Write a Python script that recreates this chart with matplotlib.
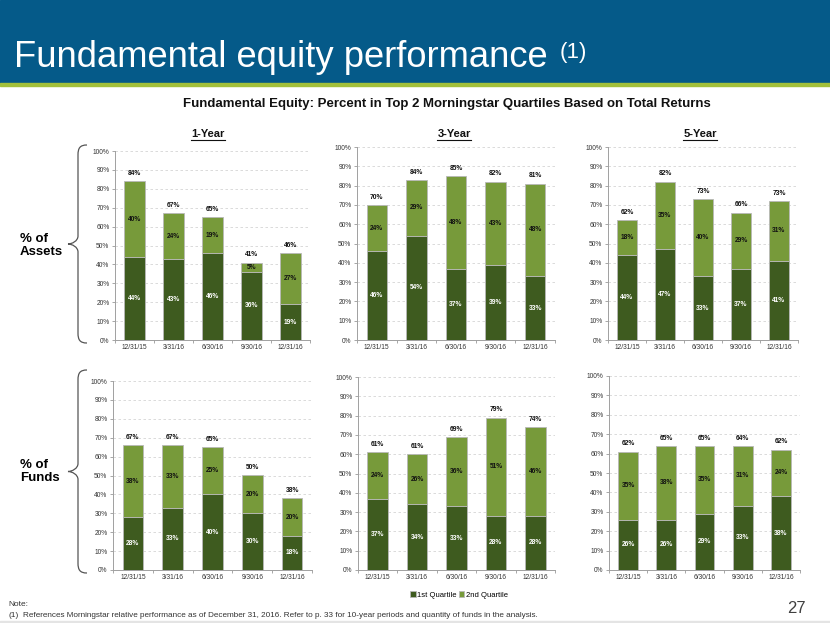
import matplotlib
matplotlib.use("Agg")
import matplotlib.pyplot as plt
from matplotlib import font_manager
from matplotlib.patches import Rectangle, PathPatch
from matplotlib.path import Path
from matplotlib.lines import Line2D
import numpy as np

# ---- data ----
dates = ["12/31/15", "3/31/16", "6/30/16", "9/30/16", "12/31/16"]
periods = ["1-Year", "3-Year", "5-Year"]

assets_q1 = {"1-Year": [44, 43, 46, 36, 19],
             "3-Year": [46, 54, 37, 39, 33],
             "5-Year": [44, 47, 33, 37, 41]}
assets_q2 = {"1-Year": [40, 24, 19, 5, 27],
             "3-Year": [24, 29, 48, 43, 48],
             "5-Year": [18, 35, 40, 29, 31]}
assets_tot = {"1-Year": [84, 67, 65, 41, 46],
              "3-Year": [70, 84, 85, 82, 81],
              "5-Year": [62, 82, 73, 66, 73]}

funds_q1 = {"1-Year": [28, 33, 40, 30, 18],
            "3-Year": [37, 34, 33, 28, 28],
            "5-Year": [26, 26, 29, 33, 38]}
funds_q2 = {"1-Year": [38, 33, 25, 20, 20],
            "3-Year": [24, 26, 36, 51, 46],
            "5-Year": [35, 38, 35, 31, 24]}
funds_tot = {"1-Year": [67, 67, 65, 50, 38],
             "3-Year": [61, 61, 69, 79, 74],
             "5-Year": [62, 65, 65, 64, 62]}

dark = "#3e5b1f"
light = "#779a3a"
W, H = 830, 623

names = {f.name for f in font_manager.fontManager.ttflist}
base = "Liberation Sans" if "Liberation Sans" in names else "DejaVu Sans"
narrow = "Liberation Sans Narrow" if "Liberation Sans Narrow" in names else base
plt.rcParams["font.family"] = [base, "DejaVu Sans"]

fig = plt.figure(figsize=(8.3, 6.23), dpi=100)


def fx(x):
    return x / W


def fy(y):
    return 1 - y / H


def axes_px(left, top, right, bottom):
    return fig.add_axes([fx(left), fy(bottom), (right - left) / W, (bottom - top) / H])


# banner
fig.patches.append(Rectangle((0, fy(83)), 1, 83 / H, transform=fig.transFigure,
                             color="#055a89", zorder=0))
fig.patches.append(Rectangle((0, fy(86)), 1, 3 / H, transform=fig.transFigure,
                             color="#a3c03b", zorder=0))
fig.patches.append(Rectangle((0, 0), 1, 2 / H, transform=fig.transFigure,
                             color="#e4e4e4", zorder=0))

fig.text(fx(14), fy(67), "Fundamental equity performance", color="white",
         fontsize=26.2, va="baseline", ha="left")
fig.text(fx(560), fy(58), "(1)", color="white", fontsize=16, va="baseline", ha="left")

fig.text(fx(447), fy(107), "Fundamental Equity: Percent in Top 2 Morningstar Quartiles Based on Total Returns",
         family=narrow, fontweight="bold", fontsize=9.5, ha="center", va="baseline", color="#111111")

for p, cx in zip(periods, [208, 454, 700]):
    fig.text(fx(cx), fy(137), p, fontweight="bold", fontsize=8, ha="center",
             va="baseline", color="#111111")
    fig.lines.append(Line2D([fx(cx - 17), fx(cx + 17)], [fy(139.5), fy(139.5)],
                            transform=fig.transFigure, color="#111111", lw=0.8))

# row labels
fig.text(fx(20), fy(239), "% of", fontweight="bold", fontsize=9.5, va="center")
fig.text(fx(20), fy(252), "Assets", fontweight="bold", fontsize=9.5, va="center")
fig.text(fx(20), fy(465), "% of", fontweight="bold", fontsize=9.5, va="center")
fig.text(fx(20), fy(478), "Funds", fontweight="bold", fontsize=9.5, va="center")


def brace(x_end, x_mid, x_tip, y_top, y_bot):
    yc = (y_top + y_bot) / 2
    pts = [(x_end, y_top),
           (x_mid + 2, y_top), (x_mid, y_top + 3), (x_mid, y_top + 10),
           (x_mid, yc - 8),
           (x_mid, yc - 3), (x_tip + 4, yc), (x_tip, yc),
           (x_tip + 4, yc), (x_mid, yc + 3), (x_mid, yc + 8),
           (x_mid, y_bot - 10),
           (x_mid, y_bot - 3), (x_mid + 2, y_bot), (x_end, y_bot)]
    codes = [Path.MOVETO, Path.CURVE4, Path.CURVE4, Path.CURVE4, Path.LINETO,
             Path.CURVE4, Path.CURVE4, Path.CURVE4, Path.CURVE4, Path.CURVE4, Path.CURVE4,
             Path.LINETO, Path.CURVE4, Path.CURVE4, Path.CURVE4]
    path = Path([(fx(a), fy(b)) for a, b in pts], codes)
    fig.patches.append(PathPatch(path, transform=fig.transFigure, fill=False,
                                 edgecolor="#555555", lw=0.9))


brace(87, 78, 68, 145, 343)
brace(87, 78, 68, 370, 573)


def panel(ax, q1, q2, tot):
    x = np.arange(len(dates))
    q1 = np.array(q1)
    q2 = np.array(q2)
    b1 = ax.bar(x, q1, width=0.52, color=dark, edgecolor="#b8b8b8", linewidth=0.6,
                zorder=3, label="1st Quartile")
    b2 = ax.bar(x, q2, bottom=q1, width=0.52, color=light, edgecolor="#b8b8b8",
                linewidth=0.6, zorder=3, label="2nd Quartile")
    for i in range(len(x)):
        ax.text(x[i], q1[i] / 2, f"{q1[i]}%", ha="center", va="center", color="white",
                fontsize=4.8, fontweight="bold", zorder=4)
        ax.text(x[i], q1[i] + q2[i] / 2, f"{q2[i]}%", ha="center", va="center",
                color="#111111", fontsize=4.8, fontweight="bold", zorder=4)
        ax.text(x[i], q1[i] + q2[i] + 2.2, f"{tot[i]}%", ha="center", va="bottom",
                color="#111111", fontsize=4.8, fontweight="bold", zorder=4)
    ax.set_xlim(-0.5, len(x) - 0.5)
    ax.set_ylim(0, 100)
    ax.set_yticks(range(0, 101, 10))
    ax.set_yticklabels([f"{v}%" for v in range(0, 101, 10)])
    ax.set_xticks(x)
    ax.set_xticklabels(dates)
    ax.set_xticks(np.arange(-0.5, len(x), 1), minor=True)
    ax.tick_params(axis="x", which="major", length=0, labelsize=4.8, pad=3, colors="#333333")
    ax.tick_params(axis="x", which="minor", length=2.5, width=0.6, color="#999999")
    ax.tick_params(axis="y", length=2, width=0.6, labelsize=4.8, pad=2, colors="#333333")
    ax.tick_params(axis="y", color="#999999")
    ax.yaxis.grid(True, color="#d4d4d4", lw=0.6, linestyle=(0, (3, 3)), zorder=0)
    ax.set_axisbelow(True)
    for s in ["top", "right"]:
        ax.spines[s].set_visible(False)
    for s in ["left", "bottom"]:
        ax.spines[s].set_color("#a0a0a0")
        ax.spines[s].set_linewidth(0.7)
    return b1, b2


top_boxes = [(115, 151, 310, 340), (357, 147, 555, 340), (608, 147, 798, 340)]
bot_boxes = [(113, 381, 312, 570), (358, 377, 555, 570), (609, 376, 800, 570)]

handles = None
for p, box in zip(periods, top_boxes):
    ax = axes_px(*box)
    panel(ax, assets_q1[p], assets_q2[p], assets_tot[p])
for p, box in zip(periods, bot_boxes):
    ax = axes_px(*box)
    handles = panel(ax, funds_q1[p], funds_q2[p], funds_tot[p])

fig.legend(handles, ["1st Quartile", "2nd Quartile"], loc="center",
           bbox_to_anchor=(fx(459), fy(595)), ncol=2, frameon=False, fontsize=5.5,
           handlelength=0.7, handleheight=0.7, columnspacing=0.3, handletextpad=0.2)

fig.text(fx(8), fy(606), "Note:", fontsize=6, color="#333333", va="baseline", family=narrow)
fig.text(fx(8), fy(617), "(1)", fontsize=6, color="#333333", va="baseline", family=narrow)
fig.text(fx(23), fy(617), "References Morningstar relative performance as of December 31, 2016. "
         "Refer to p. 33 for 10-year periods and quantity of funds in the analysis.",
         fontsize=5.9, color="#333333", va="baseline", family=narrow)
fig.text(fx(806), fy(613), "27", fontsize=12, color="#404040", va="baseline", ha="right")

fig.savefig("out.png", dpi=100)
